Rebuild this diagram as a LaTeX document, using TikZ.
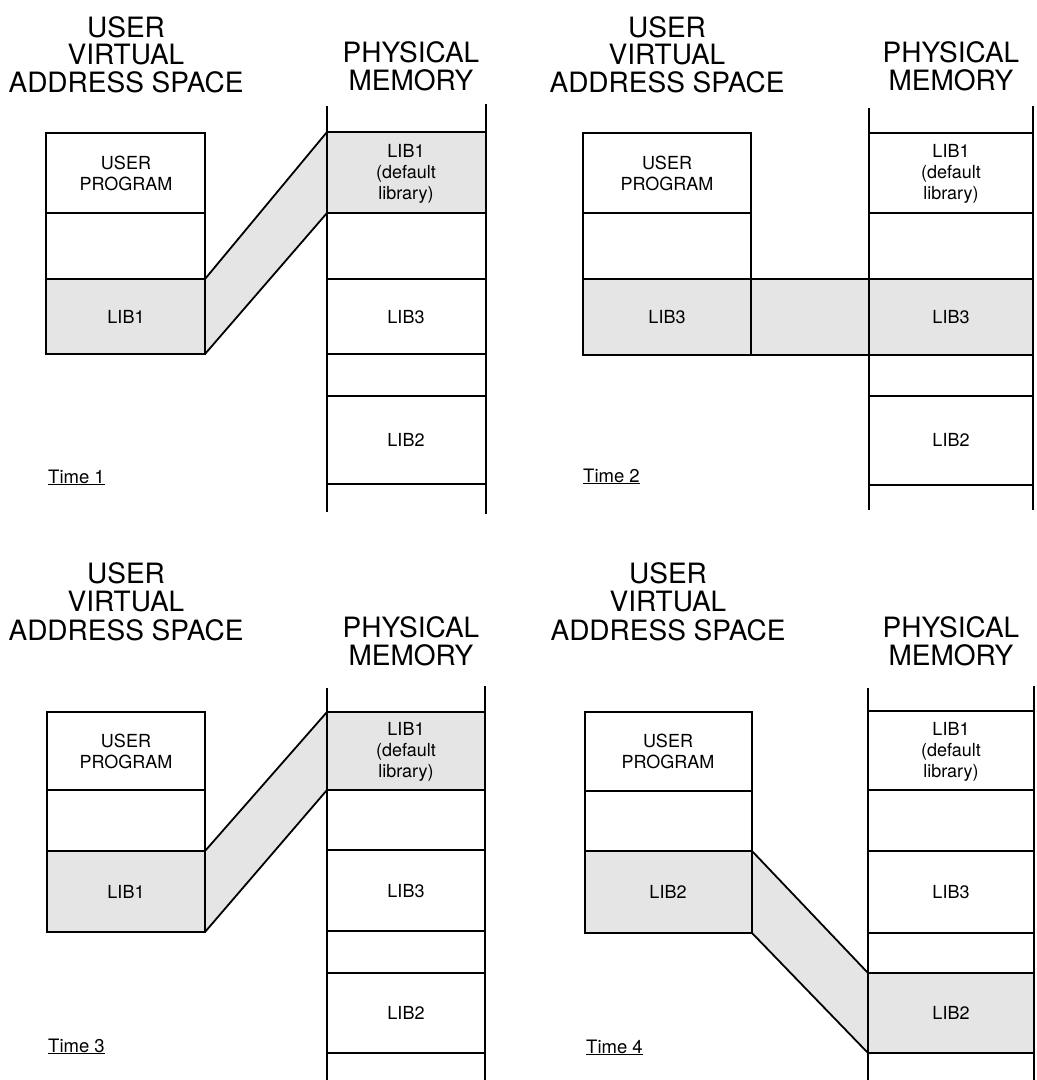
\documentclass[tikz,border=0pt]{standalone}
\usepackage{fontspec}
\setmainfont{TeX Gyre Heros}
\begin{document}
\begin{tikzpicture}[x=1pt,y=-1pt,
  ln/.style={line width=1.8pt,line join=miter},
  shade/.style={fill=black!10},
  ttl/.style={anchor=base,inner sep=0pt,font=\fontsize{28}{28}\selectfont},
  lbl/.style={align=center,inner sep=0pt,font=\fontsize{18}{21}\selectfont},
  tm/.style={anchor=base west,inner sep=0pt,font=\fontsize{18.5}{21}\selectfont}]
\useasboundingbox (0,0) rectangle (1037,1080);
\fill[white] (0,0) rectangle (1037,1080);

% ================= Panel 1 =================
\fill[shade] (46,279) rectangle (205,354);
\fill[shade] (205,279) -- (327,132) -- (327,213) -- (205,354) -- cycle;
\fill[shade] (327,132) rectangle (486,213);
\draw[ln] (46,133) rectangle (205,354);
\draw[ln] (46,213) -- (205,213);
\draw[ln] (46,279) -- (205,279);
\draw[ln] (327,106) -- (327,512);
\draw[ln] (486,104) -- (486,514);
\foreach \y in {132,213,279,354,396,484} \draw[ln] (327,\y) -- (486,\y);
\draw[ln] (205,279) -- (327,132);
\draw[ln] (205,354) -- (327,213);
\node[ttl] (t1a) at (126,37) {USER};
\node[ttl] (t1b) at (126,64) {VIRTUAL};
\node[ttl] (t1c) at (126,92) {ADDRESS SPACE};
\node[ttl] (t1d) at (411,62) {PHYSICAL};
\node[ttl] (t1e) at (411,90) {MEMORY};
\node[lbl] (u1) at (126,173) {USER\\PROGRAM};
\node[lbl] (v1) at (126,317) {LIB1};
\node[lbl] (p1a) at (406,174) {LIB1\\(default\\library)};
\node[lbl] (p1b) at (406,317) {LIB3};
\node[lbl] (p1c) at (406,440) {LIB2};
\node[tm] (tm1) at (48,483) {\underline{Time 1}};

% ================= Panel 2 =================
\fill[shade] (583,279) rectangle (1033,355);
\draw[ln] (583,133) rectangle (751,355);
\draw[ln] (583,213) -- (751,213);
\draw[ln] (583,279) -- (1033,279);
\draw[ln] (751,355) -- (1033,355);
\draw[ln] (869,108) -- (869,510);
\draw[ln] (1033,106) -- (1033,510);
\foreach \y in {133,213,396,485} \draw[ln] (869,\y) -- (1033,\y);
\node[ttl] (t2a) at (667,37) {USER};
\node[ttl] (t2b) at (667,64) {VIRTUAL};
\node[ttl] (t2c) at (667,92) {ADDRESS SPACE};
\node[ttl] (t2d) at (951,62) {PHYSICAL};
\node[ttl] (t2e) at (951,90) {MEMORY};
\node[lbl] (u2) at (667,173) {USER\\PROGRAM};
\node[lbl] (v2) at (667,317) {LIB3};
\node[lbl] (p2a) at (951,174) {LIB1\\(default\\library)};
\node[lbl] (p2b) at (951,317) {LIB3};
\node[lbl] (p2c) at (951,440) {LIB2};
\node[tm] (tm2) at (583,482) {\underline{Time 2}};

% ================= Panel 3 =================
\fill[shade] (47,851) rectangle (205,932);
\fill[shade] (205,851) -- (327,712) -- (327,790) -- (205,932) -- cycle;
\fill[shade] (327,712) rectangle (485,790);
\draw[ln] (47,712) rectangle (205,932);
\draw[ln] (47,790) -- (205,790);
\draw[ln] (47,851) -- (205,851);
\draw[ln] (327,688) -- (327,1080);
\draw[ln] (485,686) -- (485,1080);
\foreach \y in {712,790,850,931,973,1053} \draw[ln] (327,\y) -- (485,\y);
\draw[ln] (205,851) -- (327,712);
\draw[ln] (205,932) -- (327,790);
\node[ttl] (t3a) at (126,583) {USER};
\node[ttl] (t3b) at (126,611) {VIRTUAL};
\node[ttl] (t3c) at (126,640) {ADDRESS SPACE};
\node[ttl] (t3d) at (411,637) {PHYSICAL};
\node[ttl] (t3e) at (411,665) {MEMORY};
\node[lbl] (u3) at (126,751) {USER\\PROGRAM};
\node[lbl] (v3) at (126,892) {LIB1};
\node[lbl] (p3a) at (406,752) {LIB1\\(default\\library)};
\node[lbl] (p3b) at (406,891) {LIB3};
\node[lbl] (p3c) at (406,1013) {LIB2};
\node[tm] (tm3) at (48,1052) {\underline{Time 3}};

% ================= Panel 4 =================
\fill[shade] (585,851) rectangle (752,933);
\fill[shade] (752,851) -- (868,973) -- (868,1053) -- (752,933) -- cycle;
\fill[shade] (868,973) rectangle (1034,1053);
\draw[ln] (585,712) rectangle (752,933);
\draw[ln] (585,791) -- (752,791);
\draw[ln] (585,851) -- (752,851);
\draw[ln] (868,688) -- (868,1080);
\draw[ln] (1034,686) -- (1034,1080);
\foreach \y in {711,790,851,933,973,1053} \draw[ln] (868,\y) -- (1034,\y);
\draw[ln] (752,851) -- (868,973);
\draw[ln] (752,933) -- (868,1053);
\node[ttl] (t4a) at (668,583) {USER};
\node[ttl] (t4b) at (668,611) {VIRTUAL};
\node[ttl] (t4c) at (668,640) {ADDRESS SPACE};
\node[ttl] (t4d) at (951,637) {PHYSICAL};
\node[ttl] (t4e) at (951,665) {MEMORY};
\node[lbl] (u4) at (668,751) {USER\\PROGRAM};
\node[lbl] (v4) at (668,892) {LIB2};
\node[lbl] (p4a) at (951,752) {LIB1\\(default\\library)};
\node[lbl] (p4b) at (951,892) {LIB3};
\node[lbl] (p4c) at (951,1013) {LIB2};
\node[tm] (tm4) at (586,1053) {\underline{Time 4}};
\end{tikzpicture}
\end{document}
